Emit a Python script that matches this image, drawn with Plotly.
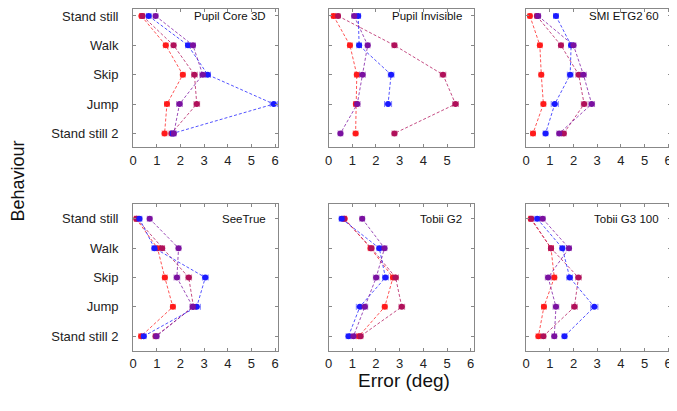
import plotly.graph_objects as go

behaviours = ["Stand still", "Walk", "Skip", "Jump", "Stand still 2"]
devices = ["Pupil Core 3D", "Pupil Invisible", "SMI ETG2 60", "SeeTrue", "Tobii G2", "Tobii G3 100"]
series_names = ["Red", "Crimson", "Blue", "Purple"]
series_colors = ["#ff1a1a", "#b0105a", "#1a1aff", "#7a10a0"]

# values per device: red, crimson, blue, purple (deg)
pupil_core = [
    [0.35, 1.38, 2.10, 1.43, 1.33],
    [0.40, 1.71, 2.59, 2.69, 1.62],
    [0.66, 2.32, 3.15, 5.94, 1.68],
    [0.95, 2.53, 2.94, 1.96, 1.72],
]
pupil_invisible = [
    [0.21, 0.90, 1.19, 1.15, 1.14],
    [0.40, 2.78, 4.83, 5.36, 2.78],
    [1.25, 1.29, 2.64, 2.51, None],
    [1.08, 1.65, 1.43, 1.21, 0.50],
]
smi = [
    [0.16, 0.58, 0.64, 0.73, 0.29],
    [0.45, 1.47, 2.22, 2.45, 1.59],
    [1.26, 1.90, 1.86, 1.21, 0.82],
    [0.51, 2.00, 2.42, 2.77, 1.40],
]
seetrue = [
    [0.13, 1.03, 1.34, 1.68, 0.34],
    [0.15, 1.23, 2.35, 2.55, 0.95],
    [0.27, 0.90, 3.05, 2.69, 0.45],
    [0.70, 1.92, 1.85, 2.52, 0.99],
]
tobii_g2 = [
    [0.68, 1.77, 2.72, 2.37, 1.28],
    [0.65, 1.81, 2.83, 3.09, 1.35],
    [0.55, 2.14, 2.40, 1.32, 0.84],
    [1.42, 2.36, 2.01, 1.53, 1.05],
]
tobii_g3 = [
    [0.19, 1.05, 1.19, 0.75, 0.52],
    [0.22, 1.05, 2.21, 2.04, 0.73],
    [0.47, 1.53, 1.84, 2.88, 1.62],
    [0.70, 1.81, 0.93, 1.26, 1.19],
]
errors = [
    [0.08, 0.10, 0.10, 0.10, 0.10],
    [0.08, 0.10, 0.12, 0.12, 0.10],
    [0.10, 0.10, 0.12, 0.15, 0.10],
    [0.10, 0.10, 0.12, 0.12, 0.10],
]
all_data = [pupil_core, pupil_invisible, smi, seetrue, tobii_g2, tobii_g3]
x_ticks = [[0, 1, 2, 3, 4, 5, 6], [0, 1, 2, 3, 4, 5], [0, 1, 2, 3, 4, 5, 6],
           [0, 1, 2, 3, 4, 5, 6], [0, 1, 2, 3, 4, 5, 6], [0, 1, 2, 3, 4, 5, 6]]


def fade(hex_color, a):
    h = hex_color.lstrip("#")
    r, g, b = int(h[0:2], 16), int(h[2:4], 16), int(h[4:6], 16)
    return f"rgba({r},{g},{b},{a})"


OFF = 8  # page body margin
W, H = 677 - OFF, 411 - OFF
col_px = [(130, 276), (327, 473), (526, 672)]
# (frame top, first category centre, last category centre, frame bottom) in page px
row_px = [(8, 15, 132.7, 146.7), (203.3, 218.3, 336, 350.7)]

fig = go.Figure()
FONT = "Liberation Sans, Arial, sans-serif"

for i, (dev, data) in enumerate(zip(devices, all_data)):
    r, c = divmod(i, 3)
    ax = "" if i == 0 else str(i + 1)
    xref, yref = "x" + ax, "y" + ax
    for s in range(4):
        fig.add_trace(go.Scatter(
            x=data[s], y=list(range(len(behaviours))), mode="lines+markers",
            xaxis=xref, yaxis=yref, showlegend=False, name=series_names[s],
            text=behaviours,
            line=dict(color=fade(series_colors[s], 0.75), width=1, dash="3px,2px"),
            marker=dict(color=series_colors[s], size=6),
            error_x=dict(type="data", array=errors[s], color=fade(series_colors[s], 0.55),
                         thickness=1, width=3),
            connectgaps=False,
        ))
    x0, x1 = col_px[c]
    top, first, last, bottom = row_px[r]
    step = (last - first) / 4
    y_lo = 4 + (bottom - last) / step
    y_hi = -(first - top) / step
    xa = dict(domain=[(x0 - OFF) / W, (x1 - OFF) / W], range=[0, 6.12], anchor=yref,
              tickvals=x_ticks[i], ticks="inside", ticklen=3, tickcolor="#888",
              showline=True, linecolor="#888", linewidth=1, mirror="ticks",
              showgrid=False, zeroline=False, ticklabelstandoff=1,
              tickfont=dict(size=13, color="#222", family=FONT))
    ya = dict(domain=[1 - (bottom - OFF) / H, 1 - (top - OFF) / H], range=[y_lo, y_hi],
              anchor=xref, tickvals=list(range(len(behaviours))), ticktext=behaviours,
              ticks="inside", ticklen=3, tickcolor="#888",
              showline=True, linecolor="#888", linewidth=1, mirror="ticks",
              showgrid=False, zeroline=False, showticklabels=(c == 0),
              ticklabelstandoff=11,
              tickfont=dict(size=13, color="#222", family=FONT))
    fig.layout["xaxis" + ax] = xa
    fig.layout["yaxis" + ax] = ya
    fig.add_annotation(text=dev, xref="paper", yref="paper",
                       x=(x1 - 10 - OFF) / W, y=1 - (first - OFF) / H,
                       xanchor="right", yanchor="middle",
                       showarrow=False, font=dict(size=11.5, color="#111", family=FONT))

fig.add_annotation(text="Error (deg)", xref="paper", yref="paper",
                   x=(403 - OFF) / W, y=1 - (380 - OFF) / H,
                   xanchor="center", yanchor="middle",
                   showarrow=False, font=dict(size=19, color="#111", family=FONT))
fig.add_annotation(text="Behaviour", xref="paper", yref="paper",
                   x=(14 - OFF) / W, y=1 - (180 - OFF) / H,
                   xanchor="center", yanchor="middle",
                   textangle=-90, showarrow=False, font=dict(size=18, color="#111", family=FONT))

fig.update_layout(width=W, height=H, margin=dict(l=0, r=0, t=0, b=0),
                  plot_bgcolor="white", paper_bgcolor="white")
fig.write_html("out.html")
